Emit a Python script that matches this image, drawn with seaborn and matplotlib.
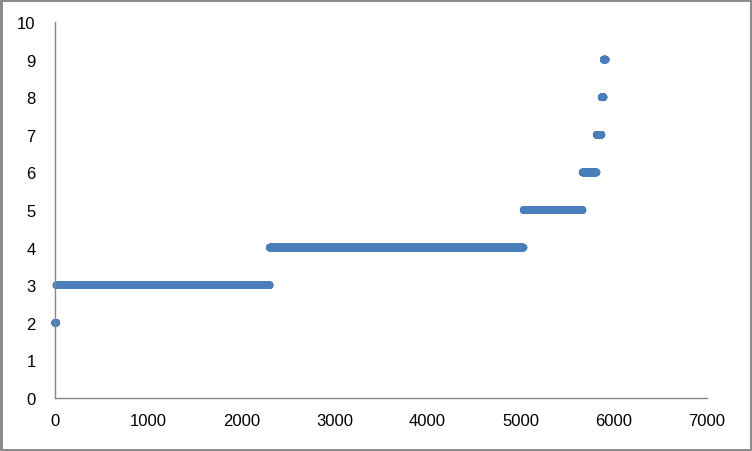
import numpy as np
import pandas as pd
import seaborn as sns
import matplotlib.pyplot as plt

# value levels and how many sorted records sit on each level
levels = [2, 3, 4, 5, 6, 7, 8, 9]
counts = [15, 2290, 2725, 633, 151, 53, 23, 23]

values = np.repeat(levels, counts)
data = pd.DataFrame({'index': np.arange(1, len(values) + 1), 'value': values})

sns.set_style("white")
plt.rcParams['font.family'] = ['Liberation Sans', 'DejaVu Sans']

fig = plt.figure(figsize=(7.52, 4.52), dpi=100, edgecolor='#8c8c8c', linewidth=2.5)
ax = fig.add_axes([0.0731, 0.1173, 0.8671, 0.8317])

sns.scatterplot(data=data, x='index', y='value', ax=ax, s=30, color='#4a7ebb',
                edgecolor='none', linewidth=0, clip_on=False)

ax.set_xlim(0, 7000)
ax.set_ylim(0, 10)
ax.set_xticks(range(0, 7001, 1000))
ax.set_yticks(range(0, 11))
ax.set_xlabel('')
ax.set_ylabel('')

for side in ['top', 'right']:
    ax.spines[side].set_visible(False)
for side in ['left', 'bottom']:
    ax.spines[side].set_color('#868686')
    ax.spines[side].set_linewidth(1)

ax.tick_params(axis='both', which='major', direction='out', length=5, width=1,
               color='#868686', labelsize=12, labelcolor='black')
ax.tick_params(axis='x', pad=6)
ax.tick_params(axis='y', pad=9)

fig.savefig('out.png', dpi=100)
